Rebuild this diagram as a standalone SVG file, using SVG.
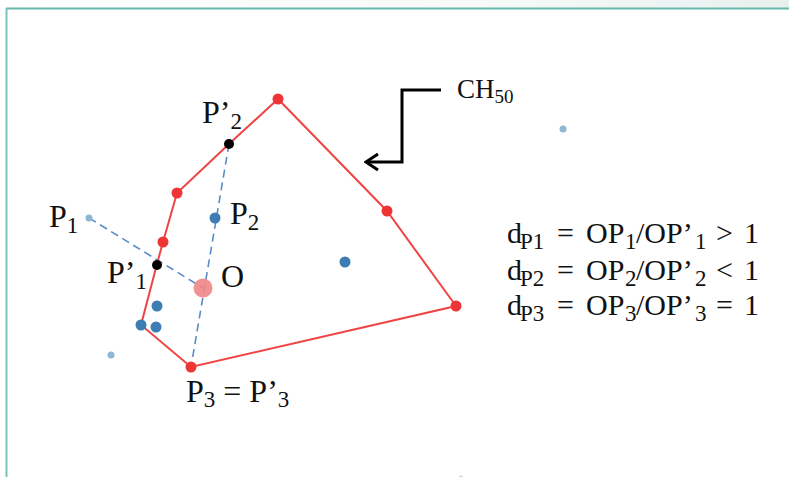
<svg xmlns="http://www.w3.org/2000/svg" width="789" height="477" viewBox="0 0 789 477">
<defs>
<linearGradient id="topfade" x1="0" y1="0" x2="1" y2="0">
<stop offset="0" stop-color="#ffffff"/>
<stop offset="0.6" stop-color="#f7faf9"/>
<stop offset="1" stop-color="#e8f0ee"/>
</linearGradient>
<marker id="chev" markerWidth="16" markerHeight="20" refX="14" refY="10" orient="auto" markerUnits="userSpaceOnUse">
<path d="M2,2 L14,10 L2,18" fill="none" stroke="#000" stroke-width="3"/>
</marker>
<style>
.t{font-family:"Liberation Serif","Times New Roman",serif;fill:#111;}
.lab{font-size:32px;}
.sub{font-size:23px;}
.eq{font-size:30px;}
.esub{font-size:23px;}
.hull{fill:none;stroke:#f04444;stroke-width:2;}
.rv{fill:#ee3535;}
.bk{fill:#000;}
.bd{fill:#3e7db3;}
.lb{fill:#8fb6d3;}
.dash{fill:none;stroke:#5a8cc8;stroke-width:1.6;stroke-dasharray:8,5;}
</style>
</defs>
<rect x="0" y="0" width="789" height="8" fill="url(#topfade)"/>
<g id="frame">
<line x1="6" y1="8.5" x2="789" y2="8.5" stroke="#66b8ad" stroke-width="2"/>
<line x1="6.5" y1="8" x2="6.5" y2="477" stroke="#7cc3b9" stroke-width="2"/>
</g>
<g id="connectors">
<polygon class="hull" points="278,99 387,211 456,306 191,367 141,325 157,264 163,242 177,193 229,144"/>
<line class="dash" x1="89" y1="218" x2="203" y2="288"/>
<line class="dash" x1="229" y1="144" x2="191" y2="367"/>
<polyline points="441,90 402,90 402,162 366,162" fill="none" stroke="#000" stroke-width="3" marker-end="url(#chev)"/>
</g>
<g id="points">
<circle class="lb" cx="89" cy="218" r="3.5"/>
<circle class="lb" cx="111" cy="355" r="3.5"/>
<circle class="lb" cx="563" cy="129" r="3.5"/>
<circle class="bd" cx="215" cy="218" r="5.5"/>
<circle class="bd" cx="345" cy="262" r="5.5"/>
<circle class="bd" cx="157" cy="306" r="5.5"/>
<circle class="bd" cx="156" cy="327" r="5.5"/>
<circle class="bd" cx="141" cy="325" r="5.5"/>
<circle cx="461" cy="478" r="2.5" fill="#c9d4dc"/>
</g>
<g id="hull-vertices">
<circle class="rv" cx="278" cy="99" r="5.5"/>
<circle class="rv" cx="387" cy="211" r="5.5"/>
<circle class="rv" cx="456" cy="306" r="5.5"/>
<circle class="rv" cx="191" cy="367" r="5.5"/>
<circle class="rv" cx="163" cy="242" r="5.5"/>
<circle class="rv" cx="177" cy="193" r="5.5"/>
</g>
<g id="O">
<circle cx="203" cy="288" r="9.5" fill="#f08585" opacity="0.9"/>
<text class="t lab" x="221" y="287">O</text>
</g>
<g id="P1p">
<circle class="bk" cx="157" cy="265" r="5"/>
<text class="t lab" x="107" y="283">P’<tspan class="sub" dy="6">1</tspan></text>
</g>
<g id="P2p">
<circle class="bk" cx="229" cy="144" r="5"/>
<text class="t lab" x="202" y="123">P’<tspan class="sub" dy="6">2</tspan></text>
</g>
<g id="P1"><text class="t lab" x="49" y="227">P<tspan class="sub" dy="6">1</tspan></text></g>
<g id="P2"><text class="t lab" x="230" y="224">P<tspan class="sub" dy="6">2</tspan></text></g>
<g id="P3"><text class="t lab" x="186" y="402">P<tspan class="sub" dy="5">3</tspan><tspan dy="-5"> = P’</tspan><tspan class="sub" dy="5">3</tspan></text></g>
<g id="CH50"><text class="t" x="457" y="98" font-size="27">CH<tspan font-size="19" dy="5">50</tspan></text></g>
<g id="equations">
<text class="t eq" y="243"><tspan x="507">d</tspan><tspan class="esub" x="520" dy="6">P1</tspan><tspan x="557" dy="-6">=</tspan><tspan x="586">OP</tspan><tspan class="esub" x="625" dy="6">1</tspan><tspan x="636" dy="-6">/OP’</tspan><tspan class="esub" x="695" dy="6">1</tspan><tspan x="716" dy="-6">&gt;</tspan><tspan x="744">1</tspan></text>
<text class="t eq" y="280"><tspan x="507">d</tspan><tspan class="esub" x="520" dy="6">P2</tspan><tspan x="557" dy="-6">=</tspan><tspan x="586">OP</tspan><tspan class="esub" x="625" dy="6">2</tspan><tspan x="636" dy="-6">/OP’</tspan><tspan class="esub" x="695" dy="6">2</tspan><tspan x="716" dy="-6">&lt;</tspan><tspan x="744">1</tspan></text>
<text class="t eq" y="315"><tspan x="507">d</tspan><tspan class="esub" x="520" dy="6">P3</tspan><tspan x="557" dy="-6">=</tspan><tspan x="586">OP</tspan><tspan class="esub" x="625" dy="6">3</tspan><tspan x="636" dy="-6">/OP’</tspan><tspan class="esub" x="695" dy="6">3</tspan><tspan x="716" dy="-6">=</tspan><tspan x="744">1</tspan></text>
</g>
</svg>
